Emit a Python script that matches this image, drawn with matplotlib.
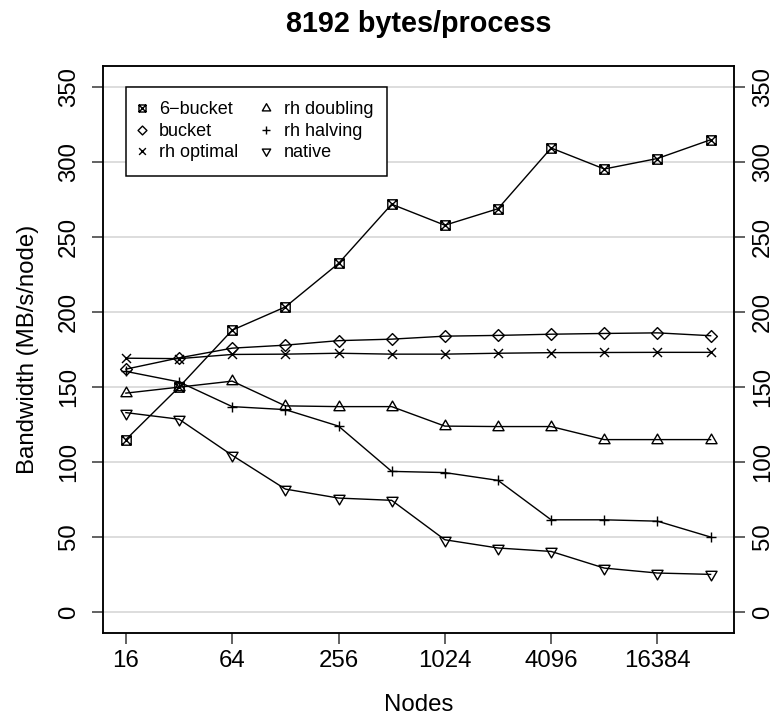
import matplotlib
matplotlib.use("Agg")
import matplotlib.pyplot as plt
from matplotlib.path import Path

plt.rcParams["font.family"] = ["Liberation Sans", "DejaVu Sans"]

# Measured all-to-all bandwidth for 8192 bytes per process
nodes = [16, 32, 64, 128, 256, 512, 1024, 2048, 4096, 8192, 16384, 32768]
six_bucket = [115, 150, 188, 203.5, 232.5, 272, 258, 269, 309.5, 295.5, 302.5, 315]
bucket = [162, 169.5, 176, 178, 181, 182, 184, 184.5, 185.3, 185.8, 186.2, 184.3]
rh_optimal = [169.3, 169, 171.8, 172, 172.6, 172, 172, 172.6, 173, 173.1, 173.2, 173.2]
rh_doubling = [146, 150, 154, 137.5, 137, 137, 124, 123.7, 123.7, 115, 115, 115]
rh_halving = [160.5, 153.5, 137, 135, 124, 93.8, 93, 87.8, 61.5, 61.5, 60.6, 50]
native = [133, 128.6, 104.5, 82, 76, 74.5, 48.2, 42.7, 40.4, 29.3, 26, 25.1]

series_names = ["6\u2212bucket", "bucket", "rh optimal", "rh doubling", "rh halving", "native"]
x_ticks = [16, 64, 256, 1024, 4096, 16384]
y_ticks = [0, 50, 100, 150, 200, 250, 300, 350]

M, L, C = Path.MOVETO, Path.LINETO, Path.CLOSEPOLY
sq_cross = Path([(-1, -1), (1, -1), (1, 1), (-1, 1), (-1, -1),
                 (-1, -1), (1, 1), (-1, 1), (1, -1)],
                [M, L, L, L, C, M, L, M, L])
diamond = Path([(0, 1), (1, 0), (0, -1), (-1, 0), (0, 1)], [M, L, L, L, C])
cross = Path([(-1, -1), (1, 1), (-1, 1), (1, -1)], [M, L, M, L])
plus = Path([(-1, 0), (1, 0), (0, -1), (0, 1)], [M, L, M, L])
tri_up = Path([(0, 1), (0.866, -0.5), (-0.866, -0.5), (0, 1)], [M, L, L, C])
tri_dn = Path([(0, -1), (0.866, 0.5), (-0.866, 0.5), (0, -1)], [M, L, L, C])

styles = [(sq_cross, 4.7), (diamond, 5.9), (cross, 4.5),
          (tri_up, 6.4), (plus, 5.4), (tri_dn, 6.4)]
data = [six_bucket, bucket, rh_optimal, rh_doubling, rh_halving, native]

W, H, DPI = 777, 721, 144
fig = plt.figure(figsize=(W / DPI, H / DPI), dpi=DPI)
ax_l, ax_r, ax_b, ax_t = 102.5, 734.0, 633.0, 66.3
ax = fig.add_axes([ax_l / W, 1 - ax_b / H, (ax_r - ax_l) / W, (ax_b - ax_t) / H])

for yv in y_ticks:
    ax.axhline(yv, color="#d3d3d3", lw=0.75, zorder=0)

handles = []
for vals, name, (mk, ms) in zip(data, series_names, styles):
    h, = ax.plot(nodes, vals, color="black", lw=0.7, marker=mk, ms=ms,
                 mfc="none", mec="black", mew=0.7, label=name, zorder=3)
    handles.append(h)

ax.set_xscale("log", base=2)
ax.set_xlim(2 ** 3.56, 2 ** 15.44)
ax.set_ylim(-14, 364)
ax.set_xticks(x_ticks)
ax.set_xticklabels([str(v) for v in x_ticks])
ax.minorticks_off()
ax.set_yticks(y_ticks)
ax.set_yticklabels([str(v) for v in y_ticks])

for sp in ax.spines.values():
    sp.set_linewidth(0.75)

ax.tick_params(axis="both", direction="out", length=5.3, width=0.75,
               labelsize=12, color="#333333")
ax.tick_params(axis="x", pad=3.4)
ax.tick_params(axis="y", pad=6.0, labelrotation=90)
for lbl in ax.get_yticklabels():
    lbl.set_va("center")

ax2 = ax.twinx()
ax2.set_ylim(ax.get_ylim())
ax2.set_yticks(y_ticks)
ax2.set_yticklabels([str(v) for v in y_ticks])
ax2.tick_params(axis="y", direction="out", length=5.3, width=0.75,
                labelsize=12, pad=3.8, labelrotation=90, color="#333333")
for lbl in ax2.get_yticklabels():
    lbl.set_va("center")
for sp in ax2.spines.values():
    sp.set_linewidth(0.75)

ax.set_xlabel("Nodes", fontsize=12)
ax.xaxis.set_label_coords(0.5, -0.108)
ax.set_ylabel("Bandwidth (MB/s/node)", fontsize=12)
ax.yaxis.set_label_coords(-0.101, 0.5)

ax.set_title("8192 bytes/process", fontsize=14.4, fontweight="bold", pad=17)

leg = ax.legend(handles=handles, ncol=2, loc="upper left",
                bbox_to_anchor=(0.0372, 0.9635), fontsize=9,
                frameon=True, fancybox=False, shadow=False, framealpha=1,
                edgecolor="black", borderpad=0.8, handlelength=0.18,
                handletextpad=0.86, columnspacing=1.47, labelspacing=0.25,
                markerscale=0.75, borderaxespad=0)
leg.get_frame().set_linewidth(0.75)
for lh in leg.legend_handles:
    lh.set_linestyle("none")
leg.set_zorder(5)

fig.savefig("out.png", dpi=DPI)
